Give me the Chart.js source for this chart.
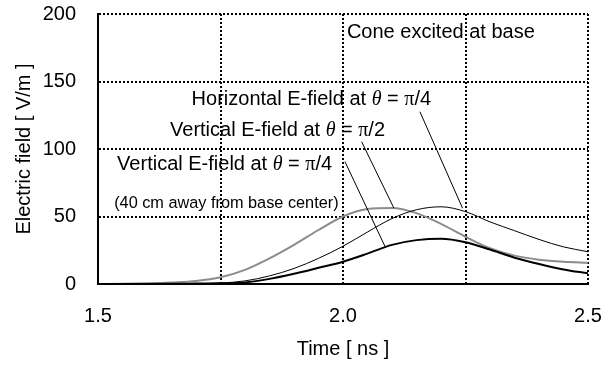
<!DOCTYPE html>
<html>
<head>
<meta charset="utf-8">
<script src="https://cdn.jsdelivr.net/npm/chart.js@4.4.1/dist/chart.umd.min.js"></script>
<style>
  html, body { margin: 0; padding: 0; background: #fff; }
  #wrap { width: 609px; height: 367px; }
</style>
</head>
<body>
<div id="wrap"><canvas id="fieldChart"></canvas></div>
<script>
// Time axis [ns]
const times = [1.5, 1.55, 1.6, 1.65, 1.7, 1.75, 1.8, 1.85, 1.9, 1.95, 2.0, 2.05, 2.1, 2.15, 2.2, 2.25, 2.3, 2.35, 2.4, 2.45, 2.5];
// Electric field [V/m]
const horizQuarter = [0, 0, 0.05, 0.1, 0.3, 0.7, 2.3, 6, 11.5, 19, 28, 38.5, 48.5, 55, 57.2, 53.6, 46, 39.5, 33, 27.5, 23.9];
const vertHalf = [0, 0.1, 0.5, 1.2, 2.3, 5, 10.5, 19, 29, 40, 50, 55.5, 56.3, 52.5, 44.5, 35, 26.5, 21, 18, 16.5, 15.8];
const vertQuarter = [0, 0, 0, 0.1, 0.3, 0.5, 1.2, 3.8, 7.6, 12, 16.5, 22.5, 29, 32.5, 33.6, 31, 25.5, 19.5, 14.8, 10.8, 7.9];

const xTicks = [1.5, 1.75, 2.0, 2.25, 2.5];
const xTickLabels = ['1.5', '', '2.0', '', '2.5'];
const yTicks = [0, 50, 100, 150, 200];
const yTickLabels = ['0', '50', '100', '150', '200'];

const SANS = "'Liberation Sans', Arial, Helvetica, sans-serif";
const SERIF = "'Liberation Serif', 'Times New Roman', serif";

// Annotations (data coordinates of the text baseline start)
const notes = [
    { t: 2.008, v: 182.2, size: 20, parts: [['Cone excited at base', 'sans']] },
    { t: 1.691, v: 132.6, size: 20, parts: [['Horizontal E-field at ', 'sans'], ['\u03B8', 'theta'], [' = ', 'sans'], ['\u03C0', 'serif'], ['/4', 'sans']] },
    { t: 1.647, v: 109.6, size: 20, parts: [['Vertical E-field at ', 'sans'], ['\u03B8', 'theta'], [' = ', 'sans'], ['\u03C0', 'serif'], ['/2', 'sans']] },
    { t: 1.539, v: 84.1, size: 20, parts: [['Vertical E-field at ', 'sans'], ['\u03B8', 'theta'], [' = ', 'sans'], ['\u03C0', 'serif'], ['/4', 'sans']] },
    { t: 1.533, v: 56.1, size: 16.3, parts: [['(40 cm away from base center)', 'sans']] }
];
// Leader lines [t1, v1, t2, v2]
const leaderLines = [
    [2.157, 127.6, 2.244, 56.1],
    [2.038, 105.4, 2.104, 56.1],
    [2.004, 90.6, 2.086, 27.6]
];

function fontFor(kind, size) {
    if (kind === 'theta') return `italic ${size}px ${SERIF}`;
    if (kind === 'serif') return `${size}px ${SERIF}`;
    return `${size}px ${SANS}`;
}

const notesPlugin = {
    id: 'notes',
    afterDatasetsDraw(chart) {
        const { ctx, scales: { x, y } } = chart;
        ctx.save();
        ctx.strokeStyle = '#000';
        ctx.lineWidth = 1;
        leaderLines.forEach(l => {
            ctx.beginPath();
            ctx.moveTo(x.getPixelForValue(l[0]), y.getPixelForValue(l[1]));
            ctx.lineTo(x.getPixelForValue(l[2]), y.getPixelForValue(l[3]));
            ctx.stroke();
        });
        ctx.fillStyle = '#000';
        ctx.textAlign = 'left';
        ctx.textBaseline = 'alphabetic';
        notes.forEach(n => {
            let px = x.getPixelForValue(n.t);
            const py = y.getPixelForValue(n.v);
            n.parts.forEach(([txt, kind]) => {
                ctx.font = fontFor(kind, n.size);
                ctx.fillText(txt, px, py);
                px += ctx.measureText(txt).width;
            });
        });
        ctx.restore();
    }
};

const toPoints = vals => times.map((t, i) => ({ x: t, y: vals[i] }));

// la zona del gráfico la fija layout.padding, no las etiquetas
const noScalePadding = s => {
    s.paddingTop = 0; s.paddingBottom = 0; s.paddingLeft = 0; s.paddingRight = 0;
};

new Chart(document.getElementById('fieldChart'), {
    type: 'line',
    data: {
        datasets: [
            { label: 'Horizontal E-field at θ = π/4', data: toPoints(horizQuarter), borderColor: '#000', borderWidth: 1 },
            { label: 'Vertical E-field at θ = π/4', data: toPoints(vertQuarter), borderColor: '#000', borderWidth: 2 },
            { label: 'Vertical E-field at θ = π/2', data: toPoints(vertHalf), borderColor: '#8c8c8c', borderWidth: 2 }
        ]
    },
    options: {
        responsive: true,
        maintainAspectRatio: false,
        animation: false,
        layout: { padding: { top: 14, right: 21, bottom: 0, left: 0 } },
        plugins: { legend: { display: false }, tooltip: { enabled: false } },
        elements: {
            point: { radius: 0 },
            line: { cubicInterpolationMode: 'monotone', fill: false }
        },
        scales: {
            x: {
                type: 'linear',
                min: 1.5,
                max: 2.5,
                afterBuildTicks: s => { s.ticks = xTicks.map(v => ({ value: v })); },
                afterFit: s => { s.height = 83; noScalePadding(s); },
                ticks: {
                    autoSkip: false,
                    maxRotation: 0,
                    padding: 20,
                    color: '#000',
                    font: { family: SANS, size: 20 },
                    callback: (v, i) => xTickLabels[i]
                },
                grid: { color: '#000', lineWidth: 2, drawTicks: false },
                border: { display: true, color: '#000', width: 2, dash: [2, 2] },
                title: {
                    display: true,
                    text: 'Time [ ns ]',
                    color: '#000',
                    font: { family: SANS, size: 20 },
                    padding: { top: 0, bottom: 6 }
                }
            },
            y: {
                min: 0,
                max: 200,
                afterBuildTicks: s => { s.ticks = yTicks.map(v => ({ value: v })); },
                afterFit: s => { s.width = 98; noScalePadding(s); },
                ticks: {
                    padding: 22,
                    color: '#000',
                    font: { family: SANS, size: 20 },
                    callback: (v, i) => yTickLabels[i]
                },
                grid: { color: '#000', lineWidth: 2, drawTicks: false },
                border: { display: true, color: '#000', width: 2, dash: [2, 2] },
                title: {
                    display: true,
                    text: 'Electric field [ V/m ]',
                    color: '#000',
                    font: { family: SANS, size: 20 },
                    padding: { top: 12, bottom: 0 }
                }
            }
        }
    },
    plugins: [notesPlugin]
});
</script>
</body>
</html>
